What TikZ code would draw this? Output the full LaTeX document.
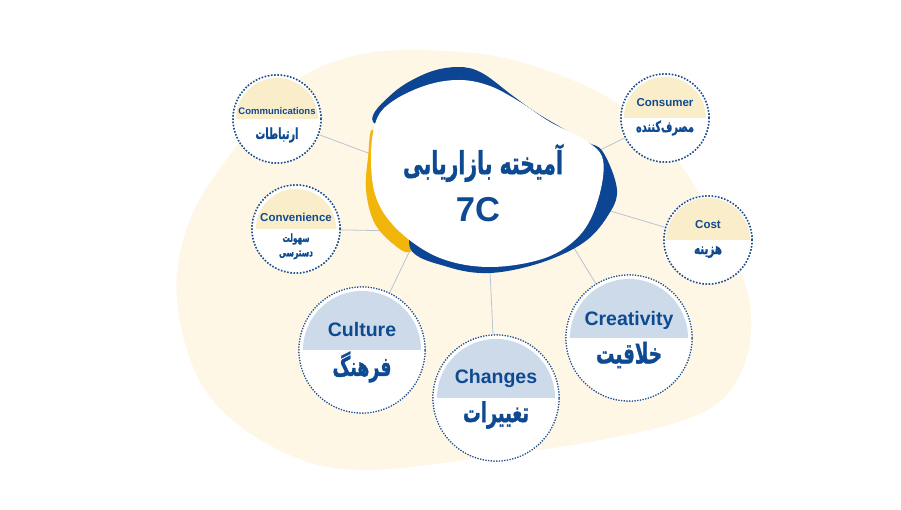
\documentclass[tikz,border=0pt]{standalone}
\usepackage{fontspec}
\setmainfont{Liberation Sans}
\newfontfamily\farsifont[Script=Arabic, BoldFeatures={FakeBold=1.3}]{DejaVu Sans}
\TeXXeTstate=1
\definecolor{textblue}{HTML}{0E4A91}
\definecolor{blobblue}{HTML}{0B4594}
\definecolor{blobyellow}{HTML}{F2B50C}
\definecolor{creambg}{HTML}{FEF7E6}
\definecolor{headcream}{HTML}{F9EDCA}
\definecolor{headblue}{HTML}{CDDAEA}
\definecolor{dotc}{HTML}{1F4F8F}
\definecolor{linkc}{HTML}{B9C5D2}
\newcommand{\fa}[2]{\scalebox{1}[1.55]{\resizebox{#1pt}{!}{\farsifont\bfseries\beginR #2\endR}}}
\newcommand{\halfdisc}[3]{\begin{scope}\clip (#1) circle[radius=#2pt];
  \fill[#3] ([xshift=-#2pt-2pt]#1.center) rectangle ([xshift=#2pt+2pt,yshift=#2pt+2pt]#1.center);\end{scope}}
\begin{document}
\begin{tikzpicture}[x=1pt,y=-1pt,
  smallc/.style={circle, draw=dotc, line width=1.5pt, dash pattern=on 1.5pt off 1.7pt, fill=white, minimum size=88pt, inner sep=0pt},
  bigc/.style={circle, draw=dotc, line width=1.2pt, dash pattern=on 1.2pt off 1.5pt, fill=white, minimum size=126pt, inner sep=0pt},
  link/.style={draw=linkc, line width=0.8pt},
  lbl/.style={text=textblue, inner sep=0pt, font=\bfseries},
  smalltxt/.style={lbl, font=\bfseries\fontsize{11.5}{12}\selectfont},
  bigtxt/.style={lbl, font=\bfseries\fontsize{19.5}{20}\selectfont}]
\useasboundingbox (0,0) rectangle (901,510);
\fill[white] (0,0) rectangle (901,510);
% background blob
\fill[creambg] plot[smooth cycle, tension=0.6] coordinates {
 (420,50) (513,60) (607,97) (670,150) (737,263) (751,330) (733,387) (690,418) (600,440) (500,455) (360,470) (275,448) (205,390) (177,300) (190,220) (235,148) (290,85) (350,57)};
% anchor points inside blob
\coordinate (b1) at (395,163);
\coordinate (b2) at (400,231);
\coordinate (b3) at (580,160);
\coordinate (b4) at (590,205);
\coordinate (b5) at (560,225);
\coordinate (b6) at (415,240);
\coordinate (b7) at (489,250);
% circles (nodes)
\node[smallc] (comm) at (277,119) {};
\node[smallc] (conv) at (296,229) {};
\node[smallc] (cons) at (665,118) {};
\node[smallc] (cost) at (708,240) {};
\node[bigc] (cult) at (362,350) {};
\node[bigc] (chan) at (496,398) {};
\node[bigc] (crea) at (629,338) {};
% links
\draw[link] (comm) -- (b1);
\draw[link] (conv) -- (b2);
\draw[link] (cons) -- (b3);
\draw[link] (cost) -- (b4);
\draw[link] (crea) -- (b5);
\draw[link] (cult) -- (b6);
\draw[link] (chan) -- (b7);
% central blob
\fill[blobyellow] plot[smooth cycle, tension=0.6] coordinates {
 (373,130) (368,158) (366,190) (374,222) (392,243) (410,252) (420,230) (392,180)};
\fill[blobblue] plot[smooth cycle, tension=0.6] coordinates {
 (373,122) (393,93) (427,73) (458,67) (482,73) (513,96) (540,115) (585,141) (603,152) (617,190) (607,217) (583,243) (540,263) (490,273) (448,267) (410,248) (420,200) (420,140)};
\fill[white] plot[smooth cycle, tension=0.6] coordinates {
 (376,121) (393,101) (427,85) (460,80) (490,86) (520,102) (550,122) (585,140) (603,160) (598,200) (580,235) (545,258) (490,267) (440,258) (400,232) (377,200) (371,160)};
% redraw circles on top of links
\node[smallc] at (comm) {};
\node[smallc] at (conv) {};
\node[smallc] at (cons) {};
\node[smallc] at (cost) {};
\node[bigc] at (cult) {};
\node[bigc] at (chan) {};
\node[bigc] at (crea) {};
% header halves
\halfdisc{comm}{41}{headcream}
\halfdisc{conv}{40}{headcream}
\halfdisc{cons}{41}{headcream}
\halfdisc{cost}{42}{headcream}
\halfdisc{cult}{59}{headblue}
\halfdisc{chan}{59}{headblue}
\halfdisc{crea}{59}{headblue}
% texts
\node[lbl] (title) at (483,163) {\fa{160}{آمیخته بازاریابی}};
\node[lbl, font=\bfseries\fontsize{34.5}{36}\selectfont] (sevenc) at (478,210) {7C};
\node[lbl, font=\bfseries\fontsize{9.5}{10}\selectfont] (commEn) at (277,111) {Communications};
\node[lbl] (commFa) at (277,135) {\fa{43}{ارتباطات}};
\node[smalltxt] (convEn) at (296,217) {Convenience};
\node[lbl] (convFa1) at (296,239) {\fa{27}{سهولت}};
\node[lbl] (convFa2) at (296,255) {\fa{34}{دسترسی}};
\node[smalltxt] (consEn) at (665,103) {Consumer};
\node[lbl] (consFa) at (665,128) {\fa{58}{مصرف‌کننده}};
\node[smalltxt] (costEn) at (708,225) {Cost};
\node[lbl] (costFa) at (708,252) {\fa{28}{هزینه}};
\node[bigtxt] (cultEn) at (362,330) {Culture};
\node[lbl] (cultFa) at (362,367) {\fa{59}{فرهنگ}};
\node[bigtxt] (chanEn) at (496,378) {Changes};
\node[lbl] (chanFa) at (496,415) {\fa{66}{تغییرات}};
\node[bigtxt] (creaEn) at (629,320) {Creativity};
\node[lbl] (creaFa) at (629,355) {\fa{66}{خلاقیت}};
\end{tikzpicture}
\end{document}
